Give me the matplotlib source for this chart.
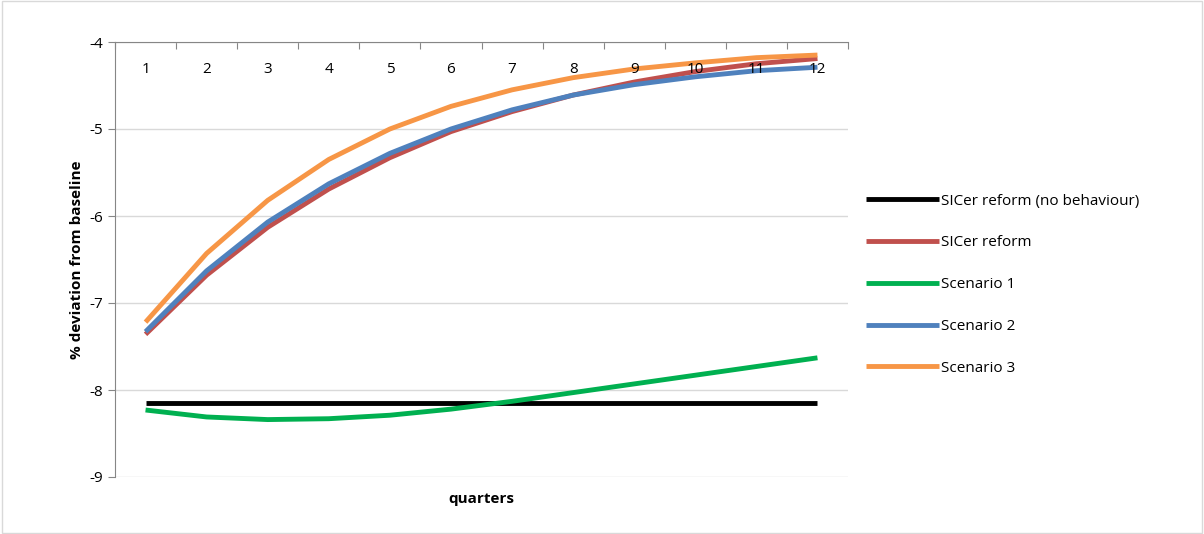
import numpy as np
import matplotlib.pyplot as plt

plt.rcParams['font.family'] = ['Open Sans', 'DejaVu Sans']
plt.rcParams['axes.unicode_minus'] = False

quarters = list(range(1, 13))
no_behaviour = [-8.15] * 12
sicer = [-7.36, -6.68, -6.13, -5.69, -5.33, -5.03, -4.80, -4.61, -4.46, -4.34, -4.25, -4.19]
scenario1 = [-8.23, -8.31, -8.34, -8.33, -8.29, -8.22, -8.13, -8.03, -7.93, -7.83, -7.73, -7.63]
scenario2 = [-7.33, -6.63, -6.07, -5.63, -5.28, -5.00, -4.78, -4.61, -4.49, -4.40, -4.33, -4.29]
scenario3 = [-7.22, -6.43, -5.82, -5.35, -5.00, -4.74, -4.55, -4.41, -4.31, -4.24, -4.18, -4.15]

fig = plt.figure(figsize=(12.04, 5.34), dpi=100)
fig.patches.append(plt.Rectangle((0.002, 0.002), 0.996, 0.996, transform=fig.transFigure,
                                 fill=False, edgecolor='#d9d9d9', lw=1))
ax = fig.add_axes([115/1204, 1-477/534, (848-115)/1204, (477-42)/534])

series = [
    ("SICer reform (no behaviour)", no_behaviour, 'black'),
    ("SICer reform", sicer, '#c0504d'),
    ("Scenario 1", scenario1, '#00b050'),
    ("Scenario 2", scenario2, '#4f81bd'),
    ("Scenario 3", scenario3, '#f79646'),
]
x = np.arange(len(quarters))
for name, vals, c in series:
    ax.plot(x, vals, color=c, lw=3.5, label=name, solid_capstyle='butt')

ax.set_xlim(-0.5, 11.5)
ax.set_ylim(-9, -4)
ax.set_yticks([-9, -8, -7, -6, -5, -4])
ax.yaxis.grid(True, color='#d9d9d9', lw=1)
ax.set_axisbelow(True)
for s in ['right', 'bottom']:
    ax.spines[s].set_visible(False)
ax.spines['top'].set_color('#868686')
ax.spines['left'].set_color('#868686')
ax.xaxis.tick_top()
ax.set_xticks(np.arange(-0.5, 12, 1))
ax.set_xticklabels([])
ax.tick_params(axis='x', direction='in', length=5, color='#868686')
ax.tick_params(axis='y', length=5, color='#868686', labelsize=11)
for i, q in enumerate(quarters):
    ax.text(i, -4.32, str(q), ha='center', va='center', fontsize=11)
ax.set_ylabel('% deviation from baseline', fontsize=11, fontweight='bold')
ax.text(5.5, -9.25, 'quarters', ha='center', va='center', fontsize=11,
        fontweight='bold', transform=ax.transData, clip_on=False)

fig.legend(loc='upper left', bbox_to_anchor=(852/1204, 1-180/534), frameon=False,
           fontsize=11, handlelength=4.8, handletextpad=0.1, labelspacing=1.75)
fig.savefig('out.png', dpi=100)
